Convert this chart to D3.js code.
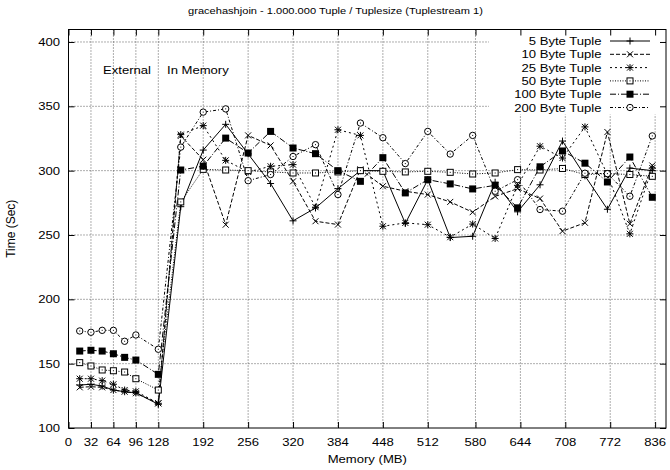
<!DOCTYPE html>
<html><head><meta charset="utf-8">
<script src="https://cdn.jsdelivr.net/npm/d3@7"></script>
<style>
body{margin:0;background:#fff;}
text{font-family:"Liberation Sans",Arial,Helvetica,sans-serif;fill:#000;}
</style>
</head><body>
<svg id="chart" width="670" height="470"></svg>
<script>
// ---------- data ----------
const memory = [16,32,48,64,80,96,128,160,192,224,256,288,320,352,384,416,448,480,512,544,576,608,640,672,704,736,768,800,832];
const seriesNames = ["5 Byte Tuple","10 Byte Tuple","25 Byte Tuple","50 Byte Tuple","100 Byte Tuple","200 Byte Tuple"];
const tuple5   = [133.4,134,132.6,129.5,128.2,127.4,118.4, 272,316,336,313,290,261,271,286,300,300,259,293,248,249,291,268,289,323,296,270,302,300];
const tuple10  = [131.6,132.1,131.6,129.5,128.2,127,119.2, 327,308.5,258,327.4,319.6,291.7,260.7,258.1,301,287.9,284,281.4,275.7,267.7,280,286,278.3,253,259.5,330,258.7,304];
const tuple25  = [138.3,138.3,136.8,134,129.5,128.5,119.2, 328,335,308,299,303.4,304.7,271.6,331.8,327.4,256.8,259.4,258,248.3,258.5,247.3,288.6,319,309.8,334,297,250.9,302];
const tuple50  = [150.8,148.2,145.1,144.5,143.5,138.3,129.5, 275.7,301,300.5,300,299,298.2,298.2,299,300,299.5,299,299.5,298.7,297.4,298.2,300.8,300.5,301.7,297,297.7,297,295.6];
const tuple100 = [159.8,160.4,159.8,157.7,154.9,152.8,141.7, 300.5,303.5,325.3,313.7,330.5,317.6,313.2,300,291.7,310.1,282.7,293,289.7,285.8,288.6,271.1,303,315.3,305.8,291.2,310.6,279.3];
const tuple200 = [175.4,174.4,175.9,175.9,167.4,172.3,161.2, 318.3,345.5,348,292.2,297,311,320.2,281.4,337,325.6,305.5,330.5,312.9,327.4,284,293,269.8,268.5,298,297.7,280.1,327];
const xTickValues = [0,32,64,96,128,192,256,320,384,448,512,580,644,708,772,836];
const yTickValues = [100,150,200,250,300,350,400];
const titleText = "gracehashjoin - 1.000.000 Tuple / Tuplesize (Tuplestream 1)";
const xLabel = "Memory (MB)";
const yLabel = "Time (Sec)";
const regionLabels = ["External","In Memory"];

// ---------- styles (not data) ----------
const dashes = [null, "4,2", "2,3", "1,1.5", "6,2,1,2", "3,2,1,2"];
const markers = ["plus","cross","star","osquare","fsquare","ocircle"];
const allValues = [tuple5,tuple10,tuple25,tuple50,tuple100,tuple200];

const svg = d3.select("#chart");
const L = 68.5, R = 666, T = 29.5, B = 428;
const x = d3.scaleLinear().domain([0, 851.5]).range([L, R]);
const y = d3.scaleLinear().domain([100, 409.7]).range([B, T]);
const SX = 1.19, FS = 11;

function txt(g, px, py, s, opt = {}) {
  return g.append("text")
    .attr("transform", `translate(${px},${py}) scale(${opt.sx ?? SX},1)`)
    .attr("font-size", opt.size ?? FS)
    .attr("text-anchor", opt.anchor ?? "start")
    .text(s);
}

svg.append("rect").attr("width",670).attr("height",470).attr("fill","#fff");

// grid
const grid = svg.append("g").attr("stroke","#333").attr("stroke-width",0.8).attr("stroke-dasharray","1,2");
xTickValues.filter(v => v > 0).forEach(v => {
  grid.append("line").attr("x1",x(v)).attr("x2",x(v)).attr("y1",T).attr("y2",B);
});
yTickValues.filter(v => v > 100).forEach(v => {
  grid.append("line").attr("x1",L).attr("x2",R).attr("y1",y(v)).attr("y2",y(v));
});

// legend background blanks grid
svg.append("rect").attr("x",489).attr("y",T+0.5).attr("width",R-489-0.5).attr("height",114-T).attr("fill","#fff");

// axes (ticks inward, mirrored)
const axB = d3.axisBottom(x).tickValues(xTickValues).tickSize(-6).tickFormat("");
const axT = d3.axisTop(x).tickValues(xTickValues).tickSize(-6).tickFormat("");
const axLft = d3.axisLeft(y).tickValues(yTickValues).tickSize(-6).tickFormat("");
const axR = d3.axisRight(y).tickValues(yTickValues).tickSize(-6).tickFormat("");
[[axB,`translate(0,${B})`],[axT,`translate(0,${T})`],[axLft,`translate(${L},0)`],[axR,`translate(${R},0)`]].forEach(([a,tr]) => {
  const g = svg.append("g").attr("transform",tr).call(a);
  g.select(".domain").remove();
  g.selectAll("line").attr("stroke","#000").attr("stroke-width",1);
});
svg.append("rect").attr("x",L).attr("y",T).attr("width",R-L).attr("height",B-T)
  .attr("fill","none").attr("stroke","#000").attr("stroke-width",1);

// tick labels
const tl = svg.append("g");
xTickValues.forEach(v => txt(tl, x(v), 445.5, String(v), {anchor:"middle"}));
yTickValues.forEach(v => txt(tl, 60, y(v)+4, String(v), {anchor:"end"}));

// axis labels and title
txt(svg, (L+R)/2, 463, xLabel, {anchor:"middle"});
svg.append("text").attr("transform",`translate(15,${(T+B)/2}) rotate(-90)`)
  .attr("font-size",12).attr("text-anchor","middle").text(yLabel);
txt(svg, 335.5, 13.5, titleText, {anchor:"middle", size:9.3});

// region labels
txt(svg, 127, 73.5, regionLabels[0], {anchor:"middle"});
txt(svg, 167, 73.5, regionLabels[1], {anchor:"start"});

// markers
function drawMarker(g, type, cx, cy) {
  const m = g.append("g").attr("transform",`translate(${cx},${cy})`);
  const p = d => m.append("path").attr("d",d).attr("stroke","#000").attr("stroke-width",1).attr("fill","none");
  if (type === "plus") p("M-3.5,0H3.5M0,-3.5V3.5");
  else if (type === "cross") p("M-3,-3L3,3M-3,3L3,-3");
  else if (type === "star") p("M-3.5,0H3.5M0,-3.5V3.5M-3,-3L3,3M-3,3L3,-3");
  else if (type === "osquare") {
    m.append("rect").attr("x",-3).attr("y",-3).attr("width",6).attr("height",6).attr("fill","#fff").attr("stroke","#000");
    m.append("rect").attr("x",-0.5).attr("y",-0.5).attr("width",1).attr("height",1).attr("fill","#000");
  } else if (type === "fsquare") {
    m.append("rect").attr("x",-3.5).attr("y",-3.5).attr("width",7).attr("height",7).attr("fill","#000");
  } else if (type === "ocircle") {
    m.append("circle").attr("r",3.2).attr("fill","#fff").attr("stroke","#000");
    m.append("rect").attr("x",-0.5).attr("y",-0.5).attr("width",1).attr("height",1).attr("fill","#000");
  }
}

svg.append("defs").append("clipPath").attr("id","clip")
  .append("rect").attr("x",L).attr("y",T).attr("width",R-L).attr("height",B-T);
const plot = svg.append("g").attr("clip-path","url(#clip)");
const line = d3.line().x(d => x(d[0])).y(d => y(d[1]));

allValues.forEach((vals, i) => {
  const pts = memory.map((m, j) => [m, vals[j]]);
  plot.append("path").datum(pts).attr("d", line).attr("fill","none")
    .attr("stroke","#000").attr("stroke-width",1)
    .attr("stroke-dasharray", dashes[i]);
});
allValues.forEach((vals, i) => {
  memory.forEach((m, j) => drawMarker(plot, markers[i], x(m), y(vals[j])));
});

// legend
const leg = svg.append("g");
seriesNames.forEach((name, i) => {
  const ly = 41 + i * 13.3;
  txt(leg, 601.5, ly + 4, name, {anchor:"end"});
  leg.append("line").attr("x1",610).attr("x2",650).attr("y1",ly).attr("y2",ly)
    .attr("stroke","#000").attr("stroke-width",1).attr("stroke-dasharray",dashes[i]);
  drawMarker(leg, markers[i], 630, ly);
});
</script>
</body></html>
